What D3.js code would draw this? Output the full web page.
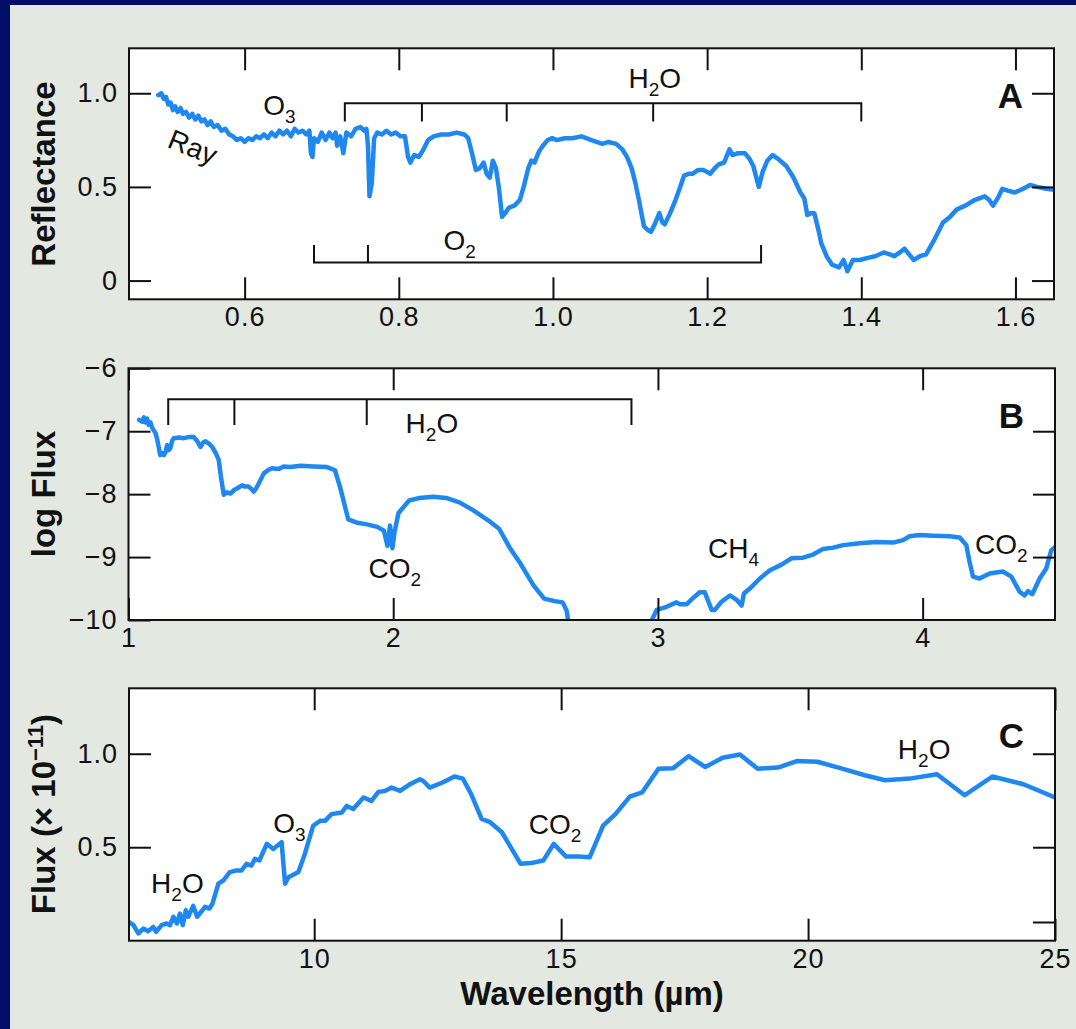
<!DOCTYPE html>
<html>
<head>
<meta charset="utf-8">
<script src="https://d3js.org/d3.v7.min.js"></script>
<style>
  body { margin: 0; background: #e3e8e1; }
  svg { display: block; font-family: "Liberation Sans", Arial, Helvetica, sans-serif; }
</style>
</head>
<body>
<svg id="chart"></svg>
<script>
// ---- panel A: visible / near-IR reflectance ----
const aWave = [0.488,0.492,0.495,0.498,0.501,0.504,0.507,0.510,0.513,0.517,0.520,0.524,0.528,0.532,0.536,0.540,
  0.544,0.548,0.552,0.556,0.560,0.565,0.570,0.575,0.580,0.585,0.590,0.595,0.600,0.605,0.610,0.615,0.620,0.625,
  0.630,0.635,0.640,0.645,0.650,0.655,0.660,0.665,0.670,0.675,0.680,0.684,0.686,0.688,0.690,0.695,0.700,0.705,
  0.710,0.714,0.718,0.720,0.724,0.728,0.732,0.738,0.744,0.750,0.755,0.758,0.760,0.762,0.765,0.768,0.772,0.778,
  0.784,0.790,0.796,0.802,0.808,0.812,0.815,0.820,0.826,0.832,0.838,0.845,0.855,0.865,0.875,0.885,0.890,0.895,
  0.900,0.905,0.910,0.914,0.918,0.922,0.926,0.930,0.934,0.938,0.943,0.950,0.957,0.962,0.968,0.972,0.976,0.982,
  0.987,0.993,0.999,1.005,1.015,1.025,1.037,1.050,1.064,1.072,1.082,1.090,1.096,1.102,1.107,1.112,1.118,1.123,
  1.127,1.132,1.138,1.142,1.145,1.152,1.159,1.165,1.170,1.176,1.181,1.188,1.195,1.200,1.204,1.210,1.215,1.222,
  1.229,1.233,1.240,1.249,1.255,1.260,1.267,1.272,1.278,1.285,1.292,1.303,1.312,1.321,1.326,1.330,1.335,1.339,
  1.345,1.348,1.355,1.362,1.371,1.377,1.382,1.389,1.398,1.407,1.418,1.429,1.437,1.443,1.450,1.456,1.462,1.468,
  1.476,1.484,1.495,1.506,1.515,1.524,1.535,1.547,1.560,1.566,1.571,1.577,1.583,1.590,1.599,1.610,1.619,1.628,
  1.640,1.650];
const aRefl = [0.99,1.00,0.97,0.98,0.94,0.95,0.91,0.93,0.90,0.92,0.89,0.90,0.87,0.89,0.86,0.88,
  0.85,0.86,0.83,0.85,0.82,0.83,0.80,0.81,0.78,0.77,0.75,0.76,0.74,0.76,0.75,0.77,0.76,0.78,
  0.76,0.79,0.77,0.80,0.78,0.80,0.77,0.81,0.79,0.80,0.78,0.80,0.68,0.66,0.76,0.74,0.79,0.75,
  0.79,0.76,0.79,0.72,0.77,0.68,0.79,0.77,0.81,0.82,0.80,0.81,0.72,0.45,0.52,0.76,0.79,0.78,
  0.80,0.78,0.79,0.77,0.77,0.66,0.63,0.67,0.66,0.70,0.75,0.77,0.78,0.78,0.79,0.78,0.76,0.68,
  0.59,0.60,0.63,0.57,0.55,0.64,0.60,0.49,0.34,0.36,0.39,0.40,0.43,0.50,0.60,0.64,0.63,0.69,
  0.72,0.75,0.76,0.75,0.76,0.76,0.77,0.75,0.73,0.74,0.73,0.70,0.66,0.60,0.52,0.42,0.29,0.27,
  0.26,0.30,0.36,0.31,0.30,0.36,0.43,0.50,0.56,0.57,0.57,0.59,0.59,0.58,0.57,0.60,0.62,0.63,
  0.70,0.67,0.68,0.68,0.65,0.61,0.50,0.58,0.64,0.67,0.65,0.61,0.55,0.47,0.44,0.35,0.36,0.36,
  0.26,0.20,0.13,0.085,0.07,0.11,0.05,0.11,0.11,0.12,0.13,0.15,0.14,0.13,0.15,0.17,0.14,0.11,
  0.13,0.14,0.22,0.31,0.34,0.38,0.40,0.43,0.45,0.43,0.40,0.44,0.49,0.48,0.47,0.49,0.51,0.50,
  0.49,0.485];
const aXTicks = [0.6, 0.8, 1.0, 1.2, 1.4, 1.6];
const aYTicks = [0, 0.5, 1.0];
const aH2OBands = [0.73, 0.83, 0.94, 1.13, 1.4];
const aO2Bands = [0.69, 0.76, 1.27];

// ---- panel B: near-IR log flux ----
const bWave = [1.04,1.052,1.058,1.064,1.070,1.076,1.083,1.090,1.102,1.108,1.114,1.120,1.128,1.134,1.140,1.146,
  1.152,1.158,1.165,1.171,1.19,1.209,1.23,1.246,1.26,1.272,1.282,1.291,1.305,1.316,1.330,1.341,1.350,1.360,
  1.372,1.385,1.40,1.41,1.429,1.44,1.454,1.465,1.473,1.482,1.492,1.511,1.530,1.542,1.567,1.586,1.611,1.65,
  1.70,1.75,1.78,1.80,1.83,1.86,1.90,1.94,1.965,1.978,1.988,1.997,2.005,2.02,2.06,2.10,2.15,2.20,2.25,2.30,
  2.36,2.40,2.44,2.48,2.53,2.57,2.61,2.64,2.655,2.67,
  2.80,
  2.972,2.995,3.033,3.07,3.083,3.108,3.133,3.158,3.177,3.203,3.215,3.24,3.272,3.297,3.316,3.325,3.347,3.385,
  3.423,3.467,3.504,3.548,3.586,3.624,3.662,3.70,3.762,3.825,3.888,3.926,3.951,3.989,4.039,4.102,4.14,4.165,
  4.177,4.19,4.215,4.253,4.303,4.335,4.366,4.385,4.398,4.414,4.442,4.467,4.486,4.50];
const bFlux = [-6.82,-6.85,-6.78,-6.86,-6.80,-6.90,-6.86,-6.95,-7.03,-7.12,-7.25,-7.38,-7.35,-7.38,-7.33,-7.22,
  -7.30,-7.27,-7.15,-7.11,-7.10,-7.11,-7.09,-7.09,-7.16,-7.25,-7.18,-7.16,-7.20,-7.25,-7.35,-7.46,-7.75,-8.01,
  -7.97,-7.99,-7.93,-7.91,-7.86,-7.88,-7.88,-7.92,-7.96,-7.91,-7.83,-7.67,-7.61,-7.59,-7.60,-7.56,-7.57,-7.55,
  -7.56,-7.57,-7.62,-7.90,-8.40,-8.45,-8.48,-8.52,-8.58,-8.82,-8.50,-8.86,-8.60,-8.30,-8.10,-8.06,-8.04,-8.06,-8.13,-8.25,
  -8.42,-8.55,-8.85,-9.10,-9.45,-9.66,-9.70,-9.72,-9.85,-10.25,
  null,
  -10.05,-9.84,-9.79,-9.72,-9.75,-9.75,-9.65,-9.56,-9.56,-9.84,-9.84,-9.71,-9.61,-9.68,-9.77,-9.58,-9.50,-9.34,
  -9.21,-9.12,-9.02,-9.01,-8.96,-8.87,-8.85,-8.81,-8.78,-8.76,-8.77,-8.73,-8.67,-8.65,-8.66,-8.67,-8.69,-8.81,
  -9.07,-9.31,-9.34,-9.26,-9.23,-9.31,-9.55,-9.61,-9.54,-9.59,-9.34,-9.18,-8.89,-8.84];
const bXTicks = [1, 2, 3, 4];
const bYTicks = [-10, -9, -8, -7, -6];
const bH2OBands = [1.15, 1.4, 1.9, 2.9];

// ---- panel C: thermal IR flux ----
const cWave = [6.25,6.34,6.44,6.54,6.64,6.74,6.80,6.91,7.01,7.08,7.15,7.22,7.28,7.34,7.40,7.45,7.55,7.63,7.79,
  7.88,7.94,8.06,8.16,8.29,8.43,8.53,8.63,8.73,8.80,8.89,9.04,9.17,9.34,9.41,9.48,9.68,9.81,9.98,10.12,10.22,
  10.35,10.56,10.66,10.79,11.0,11.16,11.30,11.43,11.57,11.74,11.94,12.14,12.21,12.34,12.60,12.84,13.01,13.18,
  13.39,13.55,13.80,14.18,14.39,14.64,14.85,15.10,15.35,15.58,15.85,16.10,16.39,16.64,16.97,17.27,17.58,17.92,
  18.27,18.62,18.98,19.39,19.77,20.19,20.69,21.15,21.56,22.06,22.61,23.17,23.73,24.36,25.0];
const cFlux = [0.10,0.083,0.039,0.065,0.051,0.074,0.048,0.083,0.092,0.083,0.128,0.092,0.145,0.083,0.163,0.128,0.186,0.128,0.181,
  0.172,0.198,0.305,0.322,0.367,0.376,0.376,0.411,0.402,0.438,0.429,0.518,0.491,0.527,0.305,0.34,0.367,0.464,0.615,0.641,0.641,
  0.677,0.686,0.721,0.704,0.766,0.748,0.796,0.801,0.819,0.801,0.837,0.863,0.854,0.819,0.846,0.878,0.867,0.783,
  0.651,0.636,0.58,0.411,0.415,0.429,0.518,0.45,0.45,0.447,0.615,0.677,0.771,0.793,0.92,0.923,0.987,0.929,
  0.979,0.996,0.92,0.926,0.961,0.957,0.92,0.885,0.858,0.867,0.89,0.778,0.878,0.837,0.766];
const cXTicks = [10, 15, 20, 25];
const cYTicks = [0.5, 1.0];
const cRightTicks = [0.1, 0.5, 1.0];

const FONT = '"Liberation Sans", Arial, Helvetica, sans-serif';
const LINE_COLOR = "#1e88f0";
const minus = s => String(s).replace("-", "\u2212");

const svg = d3.select("#chart").attr("width", 1076).attr("height", 1029);
svg.append("rect").attr("width", 1076).attr("height", 1029).attr("fill", "#e3e8e1");
svg.append("rect").attr("width", 10).attr("height", 1029).attr("fill", "#020d68");
svg.append("rect").attr("width", 1076).attr("height", 5).attr("fill", "#020d68");

function zip(xs, ys) { return xs.map((v, i) => [v, ys[i]]); }

function drawPanel(p) {
    const x = d3.scaleLinear().domain(p.xDomain).range([p.left, p.right]);
    const y = d3.scaleLinear().domain(p.yDomain).range([p.bottom, p.top]);
    const g = svg.append("g");

    g.append("rect").attr("x", p.left).attr("y", p.top)
        .attr("width", p.right - p.left).attr("height", p.bottom - p.top)
        .attr("fill", "#fff");

    g.append("clipPath").attr("id", "clip-" + p.id)
        .append("rect").attr("x", p.left).attr("y", p.top)
        .attr("width", p.right - p.left).attr("height", p.bottom - p.top);

    const line = d3.line()
        .defined(d => d[1] != null)
        .x(d => x(d[0]))
        .y(d => y(d[1]));

    g.append("path")
        .datum(zip(p.xs, p.ys))
        .attr("clip-path", `url(#clip-${p.id})`)
        .attr("fill", "none")
        .attr("stroke", LINE_COLOR)
        .attr("stroke-width", 4.5)
        .attr("stroke-linejoin", "round")
        .attr("stroke-linecap", "round")
        .attr("d", line);

    const styleAxis = s => {
        s.select(".domain").remove();
        s.attr("font-size", 27).attr("font-family", FONT);
        s.selectAll("line").attr("stroke", "#111").attr("stroke-width", 2);
        s.selectAll("text").attr("fill", "#111").attr("letter-spacing", 1);
    };

    g.append("g").attr("transform", `translate(0,${p.bottom})`)
        .call(d3.axisBottom(x).tickValues(p.xTicks).tickSize(-22).tickPadding(8).tickFormat(p.xFormat))
        .call(styleAxis);
    g.append("g").attr("transform", `translate(0,${p.top})`)
        .call(d3.axisTop(x).tickValues(p.xTicks).tickSize(-22).tickFormat(""))
        .call(styleAxis);
    g.append("g").attr("transform", `translate(${p.left},0)`)
        .call(d3.axisLeft(y).tickValues(p.yTicks).tickSize(-22).tickPadding(11).tickFormat(p.yFormat))
        .call(styleAxis);
    g.append("g").attr("transform", `translate(${p.right},0)`)
        .call(d3.axisRight(y).tickValues(p.rightTicks).tickSize(-22).tickFormat(""))
        .call(styleAxis);

    // band brackets
    (p.brackets || []).forEach(b => {
        const yl = y(b.lineAt), yt = y(b.tickTo);
        let d = `M${x(b.bands[0])},${yt}V${yl}H${x(b.bands[b.bands.length - 1])}V${yt}`;
        b.bands.slice(1, -1).forEach(v => { d += `M${x(v)},${yl}V${yt}`; });
        g.append("path").attr("d", d).attr("fill", "none")
            .attr("stroke", "#111").attr("stroke-width", 2);
    });

    // molecule labels
    (p.labels || []).forEach(l => {
        const t = g.append("text")
            .attr("x", x(l.at[0])).attr("y", y(l.at[1]))
            .attr("text-anchor", "middle")
            .attr("font-size", 28).attr("fill", "#111");
        t.append("tspan").text(l.base);
        if (l.sub) {
            t.append("tspan").attr("font-size", 19).attr("dy", 8).text(l.sub);
            if (l.rest) t.append("tspan").attr("dy", -8).text(l.rest);
        }
    });

    // panel letter
    g.append("text")
        .attr("x", p.right - 31).attr("y", y(p.letterAt))
        .attr("text-anchor", "end")
        .attr("font-size", 35).attr("font-weight", "bold").attr("fill", "#111")
        .text(p.id);

    // frame
    g.append("rect").attr("x", p.left).attr("y", p.top)
        .attr("width", p.right - p.left).attr("height", p.bottom - p.top)
        .attr("fill", "none").attr("stroke", "#111").attr("stroke-width", 2);

    return { g, x, y };
}

const fmt1 = d => d === 0 ? "0" : d.toFixed(1);

const A = drawPanel({
    id: "A", left: 129, right: 1054, top: 48.3, bottom: 299.3,
    xDomain: [0.45, 1.65], yDomain: [-0.1, 1.24],
    xs: aWave, ys: aRefl,
    xTicks: aXTicks, yTicks: aYTicks, rightTicks: aYTicks,
    xFormat: d => d.toFixed(1), yFormat: fmt1,
    brackets: [
        { bands: aH2OBands, lineAt: 0.947, tickTo: 0.849 },
        { bands: aO2Bands, lineAt: 0.097, tickTo: 0.19 }
    ],
    labels: [
        { base: "O", sub: "3", at: [0.645, 0.884] },
        { base: "H", sub: "2", rest: "O", at: [1.132, 1.028] },
        { base: "O", sub: "2", at: [0.879, 0.163] }
    ],
    letterAt: 0.921
});

// Rayleigh scattering label, tilted along the slope
A.g.append("text")
    .attr("transform", `translate(${A.x(0.528)},${A.y(0.665)}) rotate(22)`)
    .attr("text-anchor", "middle").attr("font-size", 28).attr("fill", "#111")
    .text("Ray");

drawPanel({
    id: "B", left: 128.5, right: 1055, top: 368.3, bottom: 620,
    xDomain: [1, 4.5], yDomain: [-10, -6],
    xs: bWave, ys: bFlux,
    xTicks: bXTicks, yTicks: bYTicks, rightTicks: [-9, -8, -7],
    xFormat: d => String(d), yFormat: minus,
    brackets: [
        { bands: bH2OBands, lineAt: -6.49, tickTo: -6.9 }
    ],
    labels: [
        { base: "H", sub: "2", rest: "O", at: [2.146, -7.03] },
        { base: "CO", sub: "2", at: [2.006, -9.33] },
        { base: "CH", sub: "4", at: [3.286, -9.01] },
        { base: "CO", sub: "2", at: [4.297, -8.95] }
    ],
    letterAt: -6.949
});

drawPanel({
    id: "C", left: 129, right: 1055, top: 688.3, bottom: 940.7,
    xDomain: [6.25, 25], yDomain: [0, 1.35],
    xs: cWave, ys: cFlux,
    xTicks: cXTicks, yTicks: cYTicks, rightTicks: cRightTicks,
    xFormat: d => String(d), yFormat: fmt1,
    labels: [
        { base: "H", sub: "2", rest: "O", at: [7.23, 0.254] },
        { base: "O", sub: "3", at: [9.50, 0.576] },
        { base: "CO", sub: "2", at: [14.875, 0.571] },
        { base: "H", sub: "2", rest: "O", at: [22.35, 0.972] }
    ],
    letterAt: 1.031
});

// axis titles
const titleAttrs = t => t.attr("font-size", 33).attr("font-weight", "bold")
    .attr("fill", "#111").attr("text-anchor", "middle");

svg.append("text").attr("transform", "translate(55,174) rotate(-90)")
    .call(titleAttrs).text("Reflectance");
svg.append("text").attr("transform", "translate(55,494) rotate(-90)")
    .call(titleAttrs).text("log Flux");
const fluxTitle = svg.append("text").attr("transform", "translate(55,814) rotate(-90)")
    .call(titleAttrs);
fluxTitle.append("tspan").text("Flux (\u00d7 10");
fluxTitle.append("tspan").attr("font-size", 22).attr("dy", -12).text("\u221211");
fluxTitle.append("tspan").attr("dy", 12).text(")");
svg.append("text").attr("x", 592).attr("y", 1005)
    .call(titleAttrs).text("Wavelength (\u00b5m)");
</script>
</body>
</html>
